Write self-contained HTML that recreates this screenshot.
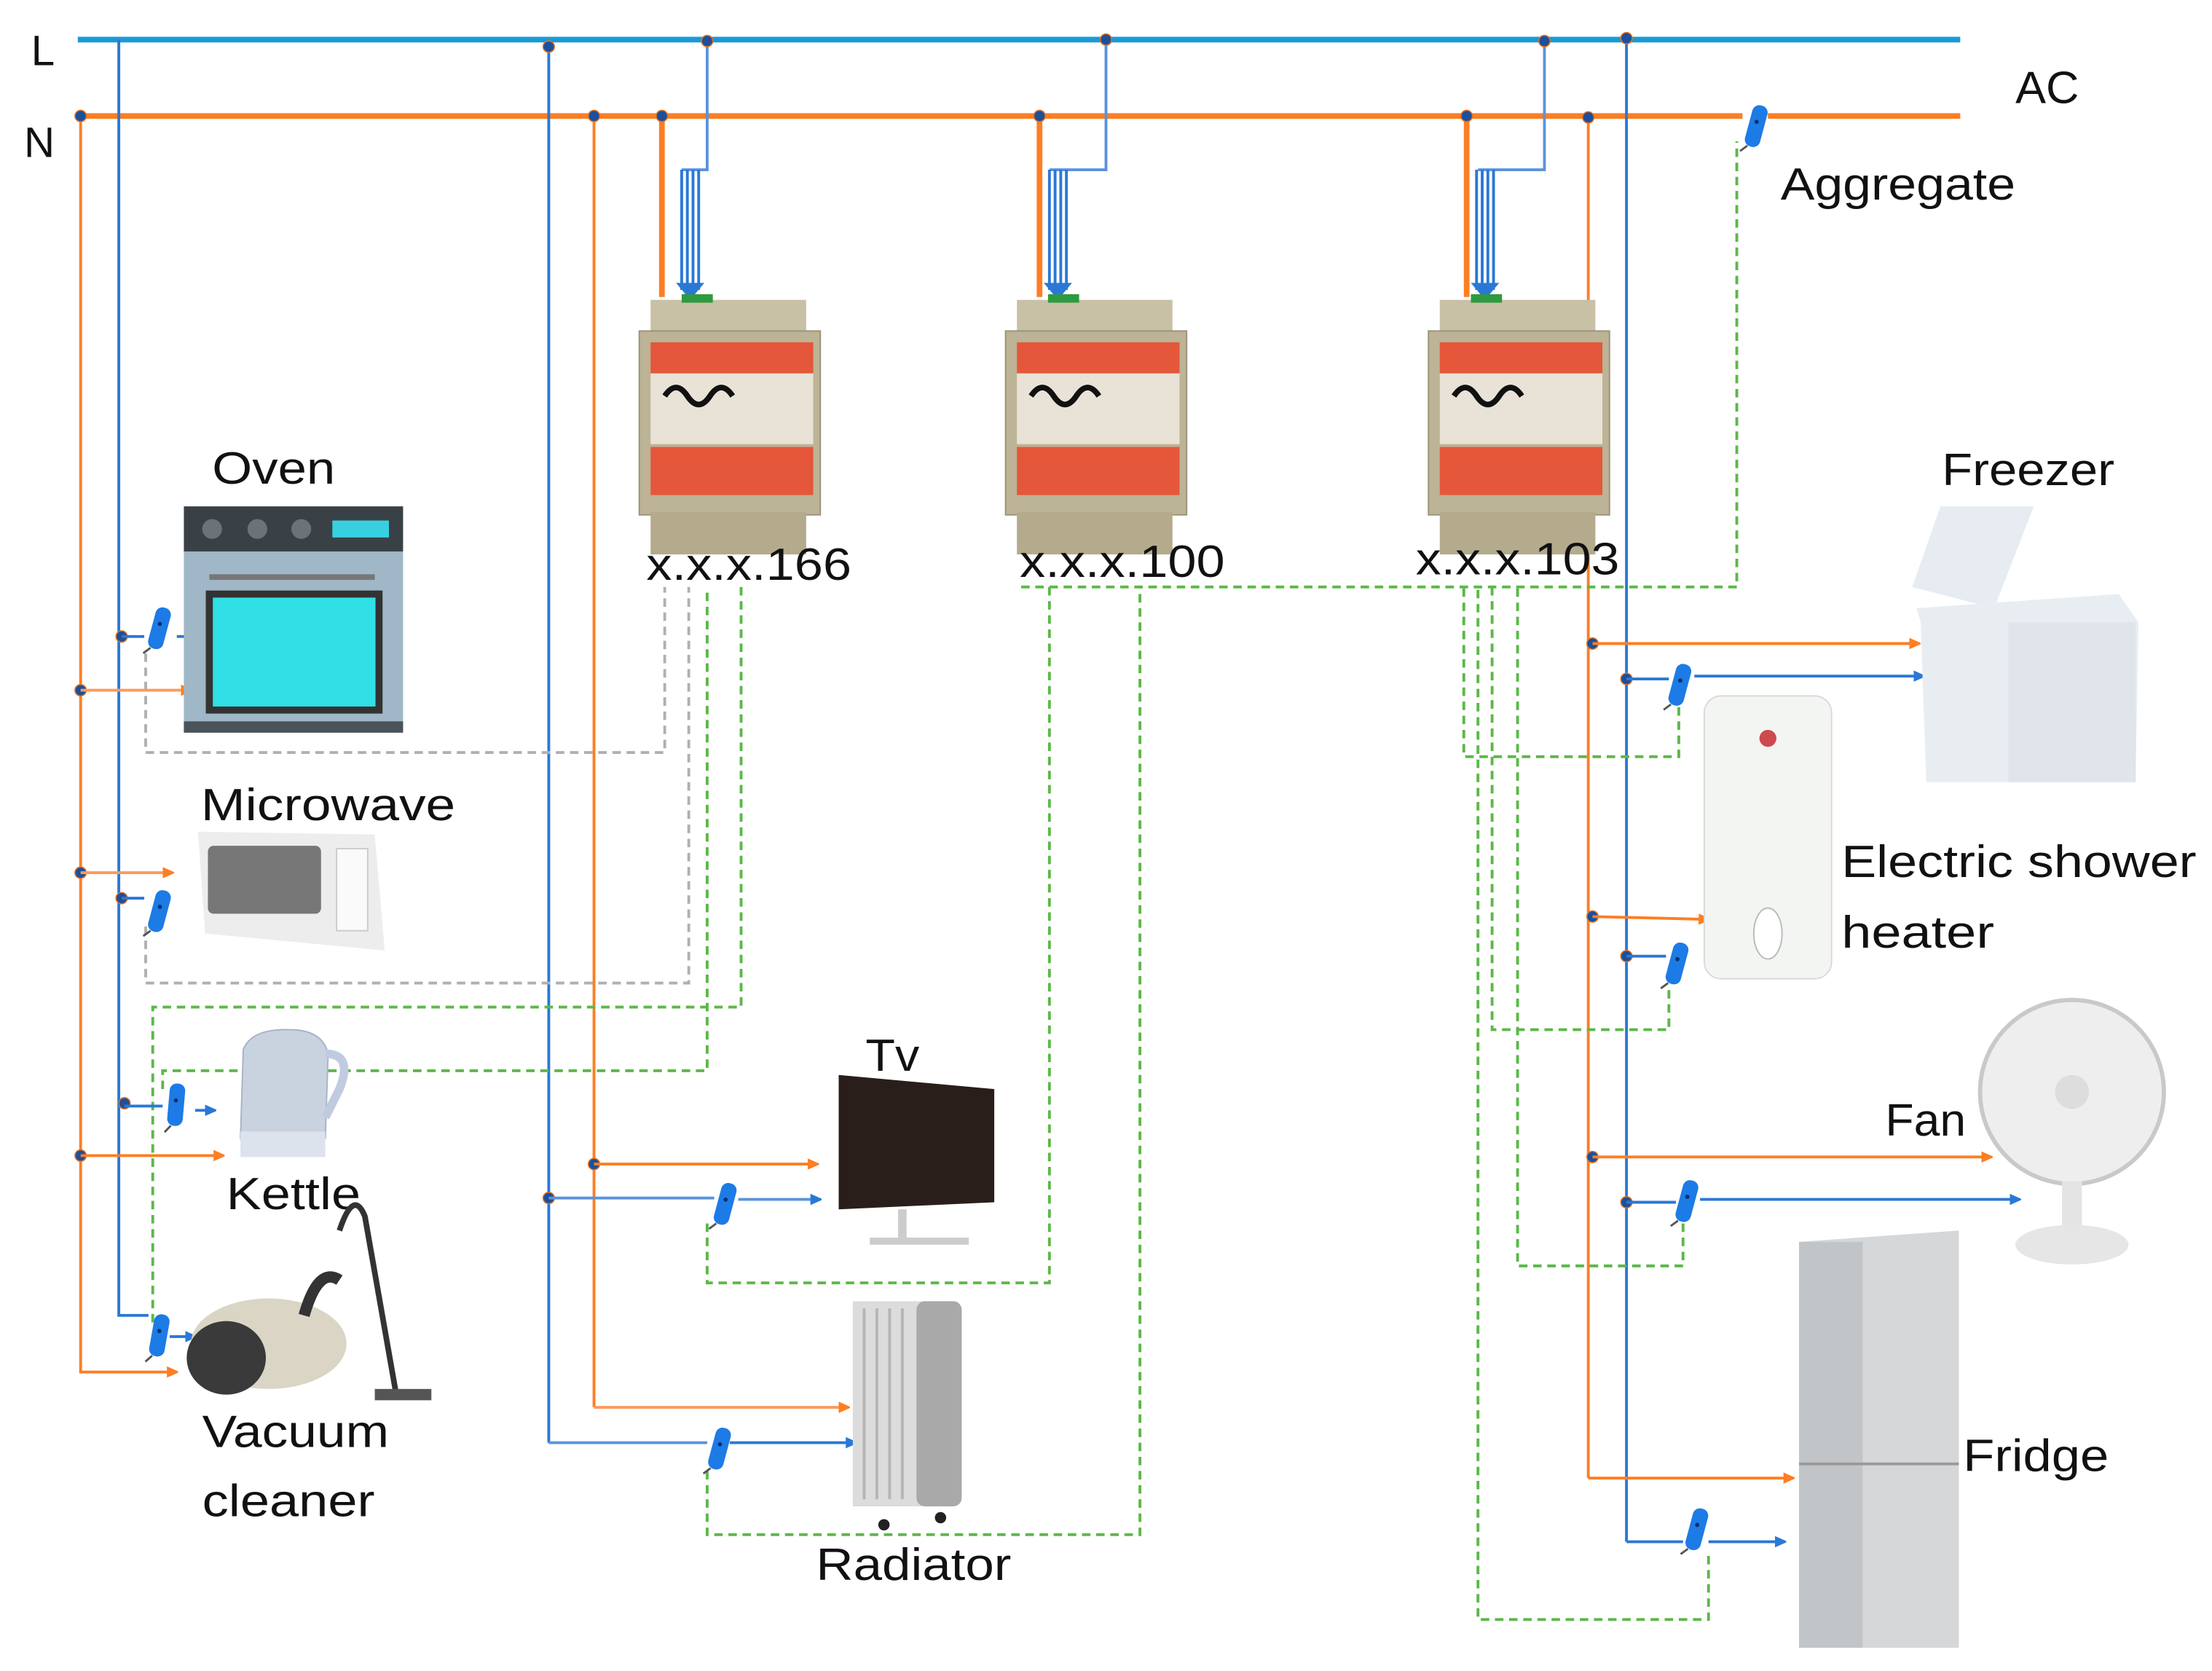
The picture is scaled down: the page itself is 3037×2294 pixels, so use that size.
<!DOCTYPE html>
<html><head><meta charset="utf-8"><style>html,body{margin:0;padding:0;background:#fff}svg{display:block}text{font-family:"Liberation Sans",sans-serif;fill:#111}</style></head>
<body>
<svg width="3037" height="2294" viewBox="0 0 1564 1181.4" preserveAspectRatio="none" xmlns="http://www.w3.org/2000/svg">
<defs>
<marker id="ao" markerWidth="8" markerHeight="8" refX="7" refY="4" orient="auto" markerUnits="userSpaceOnUse"><path d="M0,0 L9,4 L0,8z" fill="#fd7e23"/></marker>
<marker id="ab" markerWidth="8" markerHeight="8" refX="7" refY="4" orient="auto" markerUnits="userSpaceOnUse"><path d="M0,0 L9,4 L0,8z" fill="#2a78d6"/></marker>
<g id="sens"><rect x="-5" y="-16" width="11" height="30" rx="5" fill="#1d7be6"/><circle cx="0" cy="-4" r="1.5" fill="#0a3070"/><line x1="-2" y1="14" x2="-6" y2="19" stroke="#555" stroke-width="1.5"/></g>
<g id="mod">
<rect x="8" y="0" width="110" height="30" fill="#c9c1a6"/>
<rect x="0" y="22" width="128" height="130" fill="#bdb396" stroke="#9c9378"/>
<rect x="8" y="150" width="110" height="30" fill="#b4aa8c"/>
<rect x="8" y="30" width="115" height="22" fill="#e5573a"/>
<rect x="8" y="52" width="115" height="50" fill="#e8e3d6"/>
<path d="M18,68 q8,-12 16,0 t16,0 t16,0" stroke="#111" stroke-width="4" fill="none"/>
<rect x="8" y="104" width="115" height="34" fill="#e5573a"/>
<rect x="30" y="-4" width="22" height="6" fill="#2e9a40"/>
</g>
</defs>

<line x1="55" y1="28" x2="1386" y2="28" stroke="#1a9ad6" stroke-width="4"/>
<line x1="55" y1="82" x2="1232" y2="82" stroke="#fd7e23" stroke-width="4"/>
<line x1="1250" y1="82" x2="1386" y2="82" stroke="#fd7e23" stroke-width="4"/>
<text x="22" y="46" font-size="30">L</text>
<text x="17" y="111" font-size="30">N</text>
<text x="1425" y="73" font-size="32" textLength="45" lengthAdjust="spacingAndGlyphs">AC</text>
<text x="1259" y="141" font-size="32" textLength="166" lengthAdjust="spacingAndGlyphs">Aggregate</text>
<use href="#sens" transform="translate(1241,90) rotate(15)"/>

<g fill="none" stroke-width="2">
<polyline points="57,82 57,970 125,970" stroke="#fd7e23" marker-end="url(#ao)"/>
<polyline points="84,28 84,930 105,930" stroke="#2a78d6"/>
<line x1="388" y1="30" x2="388" y2="1020" stroke="#2a78d6"/>
<line x1="420" y1="82" x2="420" y2="995" stroke="#fd7e23"/>
<line x1="1123" y1="82" x2="1123" y2="1045" stroke="#fd7e23"/>
<line x1="1150" y1="28" x2="1150" y2="1090" stroke="#2a78d6"/>
</g>

<g fill="none">
<line x1="468" y1="82" x2="468" y2="210" stroke="#fd7e23" stroke-width="4"/>
<line x1="735" y1="82" x2="735" y2="210" stroke="#fd7e23" stroke-width="4"/>
<line x1="1037" y1="82" x2="1037" y2="210" stroke="#fd7e23" stroke-width="4"/>
<polyline points="500,28 500,120 482,120" stroke="#5a93dc" stroke-width="2"/>
<polyline points="782,28 782,120 742,120" stroke="#5a93dc" stroke-width="2"/>
<polyline points="1092,28 1092,120 1045,120" stroke="#5a93dc" stroke-width="2"/>
<g stroke="#2a78d6" stroke-width="2">
<line x1="482" y1="120" x2="482" y2="205"/><line x1="486" y1="120" x2="486" y2="205"/><line x1="490" y1="120" x2="490" y2="205"/><line x1="494" y1="120" x2="494" y2="205"/>
<line x1="742" y1="120" x2="742" y2="205"/><line x1="746" y1="120" x2="746" y2="205"/><line x1="750" y1="120" x2="750" y2="205"/><line x1="754" y1="120" x2="754" y2="205"/>
<line x1="1044" y1="120" x2="1044" y2="205"/><line x1="1048" y1="120" x2="1048" y2="205"/><line x1="1052" y1="120" x2="1052" y2="205"/><line x1="1056" y1="120" x2="1056" y2="205"/>
</g>
<path d="M478,200 L498,200 L488,212z M738,200 L758,200 L748,212z M1040,200 L1060,200 L1050,212z" fill="#2a78d6"/>
</g>
<use href="#mod" transform="translate(452,212)"/>
<use href="#mod" transform="translate(711,212)"/>
<use href="#mod" transform="translate(1010,212)"/>

<g fill="#1d4f9a" stroke="#e07020" stroke-width="0.8">
<circle cx="57" cy="82" r="4"/><circle cx="420" cy="82" r="4"/><circle cx="468" cy="82" r="4"/><circle cx="735" cy="82" r="4"/><circle cx="1037" cy="82" r="4"/><circle cx="1123" cy="83" r="4"/>
<circle cx="388" cy="33" r="4"/><circle cx="500" cy="29" r="4"/><circle cx="782" cy="28" r="4"/><circle cx="1092" cy="29" r="4"/><circle cx="1150" cy="27" r="4"/>
<circle cx="57" cy="488" r="4"/><circle cx="57" cy="617" r="4"/><circle cx="57" cy="817" r="4"/>
<circle cx="86" cy="450" r="4"/><circle cx="86" cy="635" r="4"/><circle cx="88" cy="780" r="4"/>
<circle cx="420" cy="823" r="4"/><circle cx="388" cy="847" r="4"/>
<circle cx="1126" cy="455" r="4"/><circle cx="1150" cy="480" r="4"/><circle cx="1126" cy="648" r="4"/><circle cx="1150" cy="676" r="4"/><circle cx="1126" cy="818" r="4"/><circle cx="1150" cy="850" r="4"/>
</g>

<text x="457" y="410" font-size="32" textLength="145" lengthAdjust="spacingAndGlyphs">x.x.x.166</text>
<text x="721" y="408" font-size="32" textLength="145" lengthAdjust="spacingAndGlyphs">x.x.x.100</text>
<text x="1001" y="406" font-size="32" textLength="144" lengthAdjust="spacingAndGlyphs">x.x.x.103</text>

<g fill="none" stroke-width="2" stroke-dasharray="6,4">
<polyline points="103,462 103,532 470,532 470,415" stroke="#b0b0b0"/>
<polyline points="103,655 103,695 487,695 487,415" stroke="#b0b0b0"/>
<polyline points="108,935 108,712 524,712 524,415" stroke="#5cb848"/>
<polyline points="115,770 115,757 500,757 500,415" stroke="#5cb848"/>
<polyline points="500,865 500,907 742,907 742,415" stroke="#5cb848"/>
<polyline points="500,1040 500,1085 806,1085 806,415" stroke="#5cb848"/>
<polyline points="722,415 1228,415 1228,100" stroke="#5cb848"/>
<polyline points="1187,500 1187,535 1035,535 1035,415" stroke="#5cb848"/>
<polyline points="1180,700 1180,728 1055,728 1055,415" stroke="#5cb848"/>
<polyline points="1190,865 1190,895 1073,895 1073,415" stroke="#5cb848"/>
<polyline points="1208,1100 1208,1145 1045,1145 1045,415" stroke="#5cb848"/>
</g>

<g fill="none" stroke-width="2">
<line x1="57" y1="488" x2="135" y2="488" stroke="#fd9a5a" marker-end="url(#ao)"/>
<line x1="57" y1="617" x2="122" y2="617" stroke="#fd9a5a" marker-end="url(#ao)"/>
<line x1="57" y1="817" x2="158" y2="817" stroke="#fd7e23" marker-end="url(#ao)"/>
<line x1="86" y1="450" x2="102" y2="450" stroke="#2a78d6"/><line x1="125" y1="450" x2="138" y2="450" stroke="#2a78d6" marker-end="url(#ab)"/>
<line x1="86" y1="635" x2="102" y2="635" stroke="#2a78d6"/>
<line x1="88" y1="782" x2="115" y2="782" stroke="#2a78d6"/><line x1="138" y1="785" x2="152" y2="785" stroke="#2a78d6" marker-end="url(#ab)"/>
<line x1="120" y1="945" x2="138" y2="945" stroke="#2a78d6" marker-end="url(#ab)"/>
<line x1="420" y1="823" x2="578" y2="823" stroke="#fd7e23" marker-end="url(#ao)"/>
<line x1="388" y1="847" x2="505" y2="847" stroke="#5a93dc"/><line x1="522" y1="848" x2="580" y2="848" stroke="#5a93dc" marker-end="url(#ab)"/>
<line x1="420" y1="995" x2="600" y2="995" stroke="#fd9a5a" marker-end="url(#ao)"/>
<polyline points="388,1020 500,1020" stroke="#5a93dc"/><line x1="516" y1="1020" x2="605" y2="1020" stroke="#2a78d6" marker-end="url(#ab)"/>
<line x1="1126" y1="455" x2="1357" y2="455" stroke="#fd7e23" marker-end="url(#ao)"/>
<line x1="1150" y1="480" x2="1180" y2="480" stroke="#2a78d6"/><line x1="1198" y1="478" x2="1360" y2="478" stroke="#2a78d6" marker-end="url(#ab)"/>
<line x1="1126" y1="648" x2="1208" y2="650" stroke="#fd7e23" marker-end="url(#ao)"/>
<line x1="1150" y1="676" x2="1178" y2="676" stroke="#2a78d6"/>
<line x1="1126" y1="818" x2="1408" y2="818" stroke="#fd7e23" marker-end="url(#ao)"/>
<line x1="1150" y1="850" x2="1185" y2="850" stroke="#2a78d6"/><line x1="1202" y1="848" x2="1428" y2="848" stroke="#2a78d6" marker-end="url(#ab)"/>
<polyline points="1123,1045 1268,1045" stroke="#fd7e23" marker-end="url(#ao)"/>
<polyline points="1150,1090 1190,1090" stroke="#2a78d6"/><line x1="1208" y1="1090" x2="1262" y2="1090" stroke="#2a78d6" marker-end="url(#ab)"/>
</g>

<use href="#sens" transform="translate(112,445) rotate(15)"/>
<use href="#sens" transform="translate(112,645) rotate(15)"/>
<use href="#sens" transform="translate(124,782) rotate(5)"/>
<use href="#sens" transform="translate(112,945) rotate(10)"/>
<use href="#sens" transform="translate(512,852) rotate(15)"/>
<use href="#sens" transform="translate(508,1025) rotate(15)"/>
<use href="#sens" transform="translate(1187,485) rotate(15)"/>
<use href="#sens" transform="translate(1185,682) rotate(15)"/>
<use href="#sens" transform="translate(1192,850) rotate(15)"/>
<use href="#sens" transform="translate(1199,1082) rotate(15)"/>

<text x="150" y="342" font-size="32" textLength="87" lengthAdjust="spacingAndGlyphs">Oven</text>
<rect x="130" y="358" width="155" height="32" fill="#3a4146"/>
<circle cx="150" cy="374" r="7" fill="#6b7378"/><circle cx="182" cy="374" r="7" fill="#6b7378"/><circle cx="213" cy="374" r="7" fill="#6b7378"/>
<rect x="235" y="368" width="40" height="12" fill="#38d0e0"/>
<rect x="130" y="390" width="155" height="128" fill="#9fb7c6"/>
<line x1="148" y1="408" x2="265" y2="408" stroke="#777" stroke-width="4"/>
<rect x="148" y="420" width="120" height="82" fill="#30e0e6" stroke="#333" stroke-width="5"/>
<rect x="130" y="510" width="155" height="8" fill="#4a5358"/>
<text x="142" y="580" font-size="32" textLength="180" lengthAdjust="spacingAndGlyphs">Microwave</text>
<path d="M140,588 L265,590 L272,672 L145,660z" fill="#eeeded"/>
<rect x="147" y="598" width="80" height="48" fill="#777" rx="4"/>
<rect x="238" y="600" width="22" height="58" fill="#fafafa" stroke="#ccc"/>
<path d="M172,742 Q178,727 205,728 Q228,728 232,745 L230,805 Q205,815 170,805z" fill="#c9d3e0" stroke="#a7b3c6"/>
<path d="M230,745 Q250,745 240,770 L230,790" stroke="#c0cbe0" stroke-width="6" fill="none"/>
<rect x="170" y="800" width="60" height="18" fill="#dde3ec"/>
<text x="160" y="855" font-size="32" textLength="95" lengthAdjust="spacingAndGlyphs">Kettle</text>
<ellipse cx="190" cy="950" rx="55" ry="32" fill="#dad5c5"/>
<ellipse cx="160" cy="960" rx="28" ry="26" fill="#3a3a3a"/>
<path d="M215,930 Q225,895 240,905" stroke="#333" stroke-width="8" fill="none"/>
<path d="M240,870 Q250,840 258,860 L280,985" stroke="#333" stroke-width="4" fill="none"/>
<rect x="265" y="982" width="40" height="8" fill="#555"/>
<text x="143" y="1023" font-size="32" textLength="132" lengthAdjust="spacingAndGlyphs">Vacuum</text>
<text x="143" y="1072" font-size="32" textLength="122" lengthAdjust="spacingAndGlyphs">cleaner</text>
<text x="612" y="757" font-size="32" textLength="38" lengthAdjust="spacingAndGlyphs">Tv</text>
<path d="M593,760 L703,770 L703,850 L593,855z" fill="#2a1e1a"/>
<rect x="635" y="855" width="6" height="20" fill="#ccc"/>
<rect x="615" y="875" width="70" height="5" fill="#ccc"/>
<rect x="603" y="920" width="50" height="145" fill="#dcdcdc"/>
<g stroke="#b5b5b5" stroke-width="2"><line x1="611" y1="925" x2="611" y2="1060"/><line x1="620" y1="925" x2="620" y2="1060"/><line x1="629" y1="925" x2="629" y2="1060"/><line x1="638" y1="925" x2="638" y2="1060"/></g>
<rect x="648" y="920" width="32" height="145" fill="#a9a9a9" rx="6"/>
<circle cx="625" cy="1078" r="4" fill="#222"/><circle cx="665" cy="1073" r="4" fill="#222"/>
<text x="577" y="1117" font-size="32" textLength="138" lengthAdjust="spacingAndGlyphs">Radiator</text>
<text x="1373" y="343" font-size="32" textLength="122" lengthAdjust="spacingAndGlyphs">Freezer</text>
<path d="M1372,358 L1438,358 L1410,430 L1352,415z" fill="#e6ecf2"/>
<path d="M1355,430 L1498,420 L1512,440 L1510,553 L1362,553 L1358,440z" fill="#e8edf2"/>
<rect x="1420" y="440" width="90" height="113" fill="#dfe5eb"/>
<rect x="1205" y="492" width="90" height="200" rx="12" fill="#f3f5f2" stroke="#d7dbd5"/>
<circle cx="1250" cy="522" r="6" fill="#cc4a50"/>
<ellipse cx="1250" cy="660" rx="10" ry="18" fill="#fff" stroke="#bbb"/>
<text x="1302" y="620" font-size="32" textLength="251" lengthAdjust="spacingAndGlyphs">Electric shower</text>
<text x="1302" y="670" font-size="32" textLength="108" lengthAdjust="spacingAndGlyphs">heater</text>
<text x="1333" y="803" font-size="32" textLength="57" lengthAdjust="spacingAndGlyphs">Fan</text>
<circle cx="1465" cy="772" r="65" fill="#eeeeee" stroke="#c9c9c9" stroke-width="3"/>
<circle cx="1465" cy="772" r="12" fill="#ddd"/>
<rect x="1458" y="835" width="14" height="40" fill="#e4e4e4"/>
<ellipse cx="1465" cy="880" rx="40" ry="14" fill="#e6e6e6"/>
<path d="M1272,878 L1385,870 L1385,1165 L1272,1165z" fill="#d5d7d9"/>
<rect x="1272" y="878" width="45" height="287" fill="#c2c5c8"/>
<line x1="1272" y1="1035" x2="1385" y2="1035" stroke="#999" stroke-width="2"/>
<text x="1388" y="1040" font-size="32" textLength="103" lengthAdjust="spacingAndGlyphs">Fridge</text>
</svg>
</body></html>
